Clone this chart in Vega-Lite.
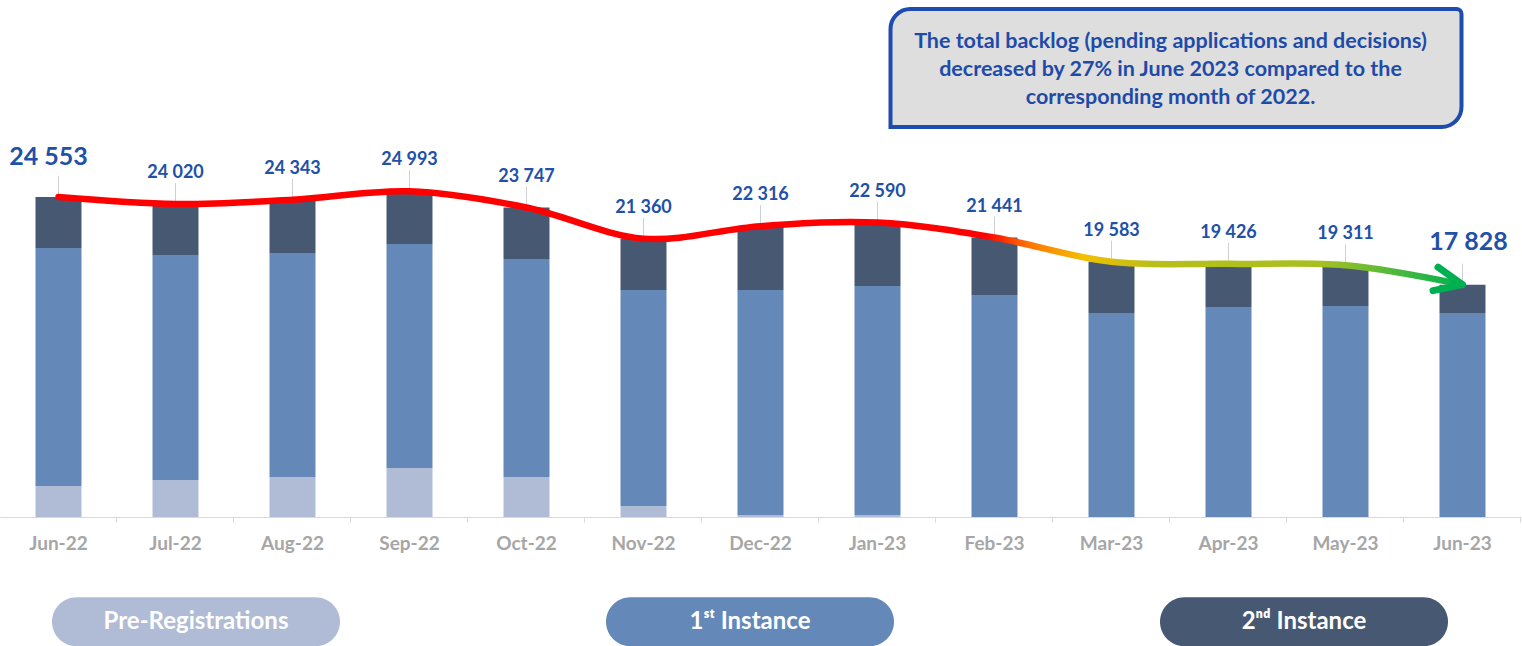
{
  "$schema": "https://vega.github.io/schema/vega-lite/v6.json",
  "width": 1521,
  "height": 517,
  "autosize": "none",
  "padding": {"left": 0, "top": 0, "right": 1, "bottom": 129},
  "background": "white",
  "config": {
    "view": {"stroke": null},
    "font": "Lato",
    "locale": {"number": {"decimal": ".", "thousands": " ", "grouping": [3], "currency": ["", ""]}}
  },
  "data": {"values": [
    {"month": "Jun-22", "category": "Pre-Registrations", "value": 2379},
    {"month": "Jun-22", "category": "1ˢᵗ Instance", "value": 18261},
    {"month": "Jun-22", "category": "2ⁿᵈ Instance", "value": 3913},
    {"month": "Jul-22", "category": "Pre-Registrations", "value": 2839},
    {"month": "Jul-22", "category": "1ˢᵗ Instance", "value": 17264},
    {"month": "Jul-22", "category": "2ⁿᵈ Instance", "value": 3917},
    {"month": "Aug-22", "category": "Pre-Registrations", "value": 3069},
    {"month": "Aug-22", "category": "1ˢᵗ Instance", "value": 17187},
    {"month": "Aug-22", "category": "2ⁿᵈ Instance", "value": 4087},
    {"month": "Sep-22", "category": "Pre-Registrations", "value": 3760},
    {"month": "Sep-22", "category": "1ˢᵗ Instance", "value": 17187},
    {"month": "Sep-22", "category": "2ⁿᵈ Instance", "value": 4046},
    {"month": "Oct-22", "category": "Pre-Registrations", "value": 3069},
    {"month": "Oct-22", "category": "1ˢᵗ Instance", "value": 16727},
    {"month": "Oct-22", "category": "2ⁿᵈ Instance", "value": 3951},
    {"month": "Nov-22", "category": "Pre-Registrations", "value": 844},
    {"month": "Nov-22", "category": "1ˢᵗ Instance", "value": 16573},
    {"month": "Nov-22", "category": "2ⁿᵈ Instance", "value": 3943},
    {"month": "Dec-22", "category": "Pre-Registrations", "value": 153},
    {"month": "Dec-22", "category": "1ˢᵗ Instance", "value": 17264},
    {"month": "Dec-22", "category": "2ⁿᵈ Instance", "value": 4899},
    {"month": "Jan-23", "category": "Pre-Registrations", "value": 153},
    {"month": "Jan-23", "category": "1ˢᵗ Instance", "value": 17571},
    {"month": "Jan-23", "category": "2ⁿᵈ Instance", "value": 4866},
    {"month": "Feb-23", "category": "Pre-Registrations", "value": 0},
    {"month": "Feb-23", "category": "1ˢᵗ Instance", "value": 17034},
    {"month": "Feb-23", "category": "2ⁿᵈ Instance", "value": 4407},
    {"month": "Mar-23", "category": "Pre-Registrations", "value": 0},
    {"month": "Mar-23", "category": "1ˢᵗ Instance", "value": 15653},
    {"month": "Mar-23", "category": "2ⁿᵈ Instance", "value": 3930},
    {"month": "Apr-23", "category": "Pre-Registrations", "value": 0},
    {"month": "Apr-23", "category": "1ˢᵗ Instance", "value": 16113},
    {"month": "Apr-23", "category": "2ⁿᵈ Instance", "value": 3313},
    {"month": "May-23", "category": "Pre-Registrations", "value": 0},
    {"month": "May-23", "category": "1ˢᵗ Instance", "value": 16190},
    {"month": "May-23", "category": "2ⁿᵈ Instance", "value": 3121},
    {"month": "Jun-23", "category": "Pre-Registrations", "value": 0},
    {"month": "Jun-23", "category": "1ˢᵗ Instance", "value": 15653},
    {"month": "Jun-23", "category": "2ⁿᵈ Instance", "value": 2175}
  ]},
  "resolve": {"axis": {"x": "independent"}},
  "layer": [
    {
      "transform": [{"calculate": "indexof(['Pre-Registrations', '1ˢᵗ Instance', '2ⁿᵈ Instance'], datum.category)", "as": "stackOrder"}],
      "mark": {"type": "bar"},
      "encoding": {
        "x": {"field": "month", "type": "nominal",
          "scale": {"domain": ["Jun-22","Jul-22","Aug-22","Sep-22","Oct-22","Nov-22","Dec-22","Jan-23","Feb-23","Mar-23","Apr-23","May-23","Jun-23"], "paddingInner": 0.607, "paddingOuter": 0.3035},
          "axis": {"orient": "bottom", "title": null, "ticks": false, "domain": true, "domainColor": "#D9D9D9", "domainWidth": 1, "labelFont": "Lato", "labelFontSize": 19, "labelFontWeight": "bold", "labelColor": "#A6A6A6", "labelPadding": 17, "labelAngle": 0, "grid": false}},
        "y": {"field": "value", "type": "quantitative", "aggregate": "sum", "stack": "zero",
          "scale": {"domain": [0, 39669], "nice": false, "zero": true}, "axis": null},
        "order": {"field": "stackOrder", "type": "quantitative", "sort": "ascending"},
        "color": {"field": "category", "type": "nominal",
          "sort": ["Pre-Registrations", "1ˢᵗ Instance", "2ⁿᵈ Instance"],
          "scale": {"domain": ["Pre-Registrations", "1ˢᵗ Instance", "2ⁿᵈ Instance"], "range": ["#B0BCD6", "#6488B8", "#475873"]},
          "legend": {
            "orient": "none", "legendX": 52, "legendY": 477.5, "direction": "horizontal", "columns": 3,
            "title": null, "padding": 0, "gridAlign": "all", "columnPadding": 266,
            "symbolType": "M-0.83,-0.17L0.83,-0.17A0.17,0.17 0 0 1 0.83,0.17L-0.83,0.17A0.17,0.17 0 0 1 -0.83,-0.17Z",
            "symbolSize": 82944, "symbolStrokeWidth": 0, "symbolOpacity": 1,
            "labelOffset": -144, "labelAlign": "center", "labelBaseline": "middle",
            "labelFont": "Lato", "labelFontSize": 24, "labelFontWeight": "bold", "labelColor": "#FFFFFF", "labelLimit": 0
          }}
      }
    },
    {
      "transform": [{"aggregate": [{"op": "sum", "field": "value", "as": "total"}], "groupby": ["month"]}],
      "mark": {"type": "rule", "color": "#D0D0D0", "strokeWidth": 1, "yOffset": -3, "y2Offset": -21},
      "encoding": {
        "x": {"field": "month", "type": "nominal",
          "axis": {"orient": "bottom", "title": null, "labels": false, "domain": false, "ticks": true, "tickColor": "#D9D9D9", "tickSize": 5, "bandPosition": 1.772, "grid": false}},
        "y": {"field": "total", "type": "quantitative"},
        "y2": {"field": "total"}
      }
    },
    {
      "transform": [{"aggregate": [{"op": "sum", "field": "value", "as": "total"}], "groupby": ["month"]}],
      "mark": {"type": "line", "interpolate": "cardinal", "strokeWidth": 6.5, "strokeCap": "round",
        "stroke": {"gradient": "linear", "x1": 0, "y1": 0, "x2": 1, "y2": 0,
          "stops": [
            {"offset": 0, "color": "#FF0000"},
            {"offset": 0.66, "color": "#FF0000"},
            {"offset": 0.69, "color": "#FF7000"},
            {"offset": 0.73, "color": "#F2C000"},
            {"offset": 0.78, "color": "#B8BE1A"},
            {"offset": 0.9, "color": "#A6C020"},
            {"offset": 0.96, "color": "#40B840"},
            {"offset": 1, "color": "#00B050"}
          ]}},
      "encoding": {
        "x": {"field": "month", "type": "nominal", "axis": null},
        "y": {"field": "total", "type": "quantitative"}
      }
    },
    {
      "transform": [{"aggregate": [{"op": "sum", "field": "value", "as": "total"}], "groupby": ["month"]}, {"filter": "datum.month === 'Jun-23'"}],
      "mark": {"type": "point", "shape": "M-0.92,-0.4L0,0L-0.92,0.4", "size": 3600, "filled": false, "stroke": "#00B050", "strokeWidth": 7, "strokeCap": "round", "strokeJoin": "round", "opacity": 1, "angle": 12},
      "encoding": {
        "x": {"field": "month", "type": "nominal", "axis": null},
        "y": {"field": "total", "type": "quantitative"}
      }
    },
    {
      "transform": [{"aggregate": [{"op": "sum", "field": "value", "as": "total"}], "groupby": ["month"]}, {"filter": "datum.month !== 'Jun-22' && datum.month !== 'Jun-23'"}],
      "mark": {"type": "text", "font": "Lato", "fontSize": 18, "fontWeight": "bold", "color": "#2150A8", "dy": -31, "baseline": "middle"},
      "encoding": {
        "x": {"field": "month", "type": "nominal", "axis": null},
        "y": {"field": "total", "type": "quantitative"},
        "text": {"field": "total", "type": "quantitative", "format": ",d"}
      }
    },
    {
      "transform": [{"aggregate": [{"op": "sum", "field": "value", "as": "total"}], "groupby": ["month"]}, {"filter": "datum.month === 'Jun-22'"}],
      "mark": {"type": "text", "font": "Lato", "fontSize": 25, "fontWeight": "bold", "color": "#2150A8", "dy": -40, "dx": -10, "baseline": "middle"},
      "encoding": {
        "x": {"field": "month", "type": "nominal", "axis": null},
        "y": {"field": "total", "type": "quantitative"},
        "text": {"field": "total", "type": "quantitative", "format": ",d"}
      }
    },
    {
      "transform": [{"aggregate": [{"op": "sum", "field": "value", "as": "total"}], "groupby": ["month"]}, {"filter": "datum.month === 'Jun-23'"}],
      "mark": {"type": "text", "font": "Lato", "fontSize": 25, "fontWeight": "bold", "color": "#2150A8", "dy": -43, "dx": 6, "baseline": "middle"},
      "encoding": {
        "x": {"field": "month", "type": "nominal", "axis": null},
        "y": {"field": "total", "type": "quantitative"},
        "text": {"field": "total", "type": "quantitative", "format": ",d"}
      }
    },
    {
      "data": {"values": [{"note": "box"}]},
      "mark": {"type": "rect", "fill": "#DEDEDE", "stroke": "#1E4BB0", "strokeWidth": 4,
        "cornerRadiusTopLeft": 20, "cornerRadiusBottomRight": 20, "cornerRadiusTopRight": 5, "cornerRadiusBottomLeft": 0,
        "xOffset": 13, "x2Offset": -1},
      "encoding": {
        "x": {"datum": "Jan-23", "type": "nominal", "bandPosition": 0.5, "axis": null},
        "x2": {"datum": "Jun-23", "bandPosition": 0.5},
        "y": {"datum": 38978, "type": "quantitative"},
        "y2": {"datum": 29924}
      }
    },
    {
      "data": {"values": [{"note": "box"}]},
      "mark": {"type": "text", "font": "Lato", "fontSize": 21.5, "fontWeight": "bold", "color": "#1E4AA8", "align": "center", "baseline": "middle", "lineHeight": 28, "dx": -35,
        "text": ["The total backlog (pending applications and decisions)", "decreased by 27% in June 2023 compared to the", "corresponding  month of 2022."]},
      "encoding": {
        "x": {"datum": "Apr-23", "type": "nominal", "bandPosition": 0, "axis": null},
        "y": {"datum": 36446, "type": "quantitative"}
      }
    }
  ]
}
